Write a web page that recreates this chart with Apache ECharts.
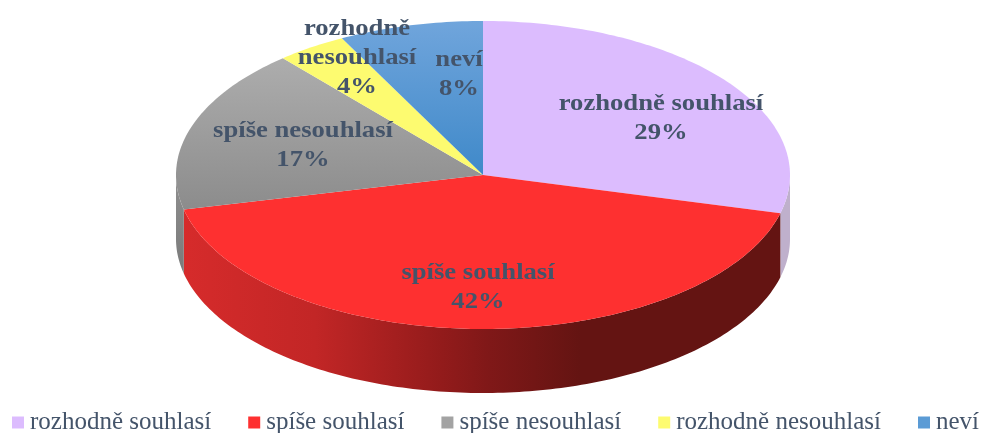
<!DOCTYPE html>
<html>
<head>
<meta charset="utf-8">
<style>html,body{margin:0;padding:0;background:#fff}#c{width:982px;height:433px}</style>
<script src="https://cdn.jsdelivr.net/npm/echarts@6/dist/echarts.min.js"></script>
</head>
<body>
<div id="c"></div>
<script>
// Data
var categories = ['rozhodně souhlasí', 'spíše souhlasí', 'spíše nesouhlasí', 'rozhodně nesouhlasí', 'neví'];
var values = [29, 42.4, 17.3, 3.7, 7.6];
var labelLines = [['rozhodně souhlasí'], ['spíše souhlasí'], ['spíše nesouhlasí'], ['rozhodně', 'nesouhlasí'], ['neví']];
var legendColors = ['#dcbcfe', '#fe3030', '#a3a3a3', '#fdfb70', '#5b9bd5'];

// Styling and layout
var pie = { cx: 483, cy: 175, rx: 307, ry: 154, depth: 64 };
var labelAnchor = [[661, 118], [478, 287], [303, 145], [357, 58], [459, 74]];
var lineHeight = 29;
var labelStretch = 1.11;
var textColor = '#44546a';
var fontFamily = '"Liberation Serif", serif';
var total = values.reduce(function (a, b) { return a + b; }, 0);

function grad(stops, horizontal) {
  return new echarts.graphic.LinearGradient(0, 0, horizontal ? 1 : 0, horizontal ? 0 : 1,
    stops.map(function (s) { return { offset: s[0], color: s[1] }; }));
}
var topFill = [
  '#dcbcfe',
  '#fe3030',
  grad([[0, '#adadad'], [1, '#8c8c8c']]),
  '#fdfb70',
  grad([[0, '#70a5dc'], [1, '#3f89c9']])
];
var wallFill = [
  '#bfb0cc',
  grad([[0, '#d62b2b'], [0.22, '#c22626'], [0.43, '#931b1b'], [0.51, '#801818'], [0.665, '#641412'], [1, '#641412']], true),
  grad([[0, '#8f8f8f'], [1, '#7a7a7a']]),
  '#d9d760',
  '#4a82b8'
];

function pt(deg, dy) {
  var a = deg * Math.PI / 180;
  return [pie.cx + pie.rx * Math.sin(a), pie.cy - pie.ry * Math.cos(a) + (dy || 0)];
}
function arc(from, to, dy) {
  var out = [], n = Math.max(2, Math.ceil(Math.abs(to - from)));
  for (var k = 0; k <= n; k++) out.push(pt(from + (to - from) * k / n, dy));
  return out;
}

function renderSlice(params, api) {
  var i = params.seriesIndex;
  var before = values.slice(0, i).reduce(function (a, b) { return a + b; }, 0);
  var v = api.value(0);
  var start = before / total * 360, end = (before + v) / total * 360;
  var children = [];
  var ws = Math.max(start, 90), we = Math.min(end, 270);
  if (we > ws) {
    children.push({
      type: 'polygon',
      shape: { points: arc(ws, we, 0).concat(arc(we, ws, pie.depth)) },
      style: { fill: wallFill[i] }
    });
  }
  children.push({
    type: 'polygon',
    z2: 5,
    shape: { points: [[pie.cx, pie.cy]].concat(arc(start, end, 0)) },
    style: { fill: topFill[i] }
  });
  var lines = labelLines[i].concat([Math.round(v / total * 100) + '%']);
  children.push({
    type: 'text',
    z2: 100,
    x: labelAnchor[i][0],
    y: labelAnchor[i][1],
    scaleX: labelStretch,
    style: {
      text: lines.join('\n'),
      fill: textColor,
      font: 'bold 24px ' + fontFamily,
      lineHeight: lineHeight,
      align: 'center',
      verticalAlign: 'middle'
    }
  });
  return { type: 'group', children: children };
}

var chart = echarts.init(document.getElementById('c'), null, { renderer: 'canvas' });
chart.setOption({
  animation: false,
  backgroundColor: '#fff',
  legend: {
    data: categories,
    left: 12,
    top: 410,
    icon: 'rect',
    itemWidth: 12,
    itemHeight: 12,
    itemGap: 37,
    padding: 0,
    selectedMode: false,
    textStyle: { color: textColor, fontFamily: fontFamily, fontSize: 25, padding: [0, 0, 0, 1] }
  },
  series: categories.map(function (name, i) {
    return {
      type: 'custom',
      name: name,
      coordinateSystem: 'none',
      silent: true,
      itemStyle: { color: legendColors[i] },
      data: [[values[i]]],
      renderItem: renderSlice
    };
  })
});
</script>
</body>
</html>
